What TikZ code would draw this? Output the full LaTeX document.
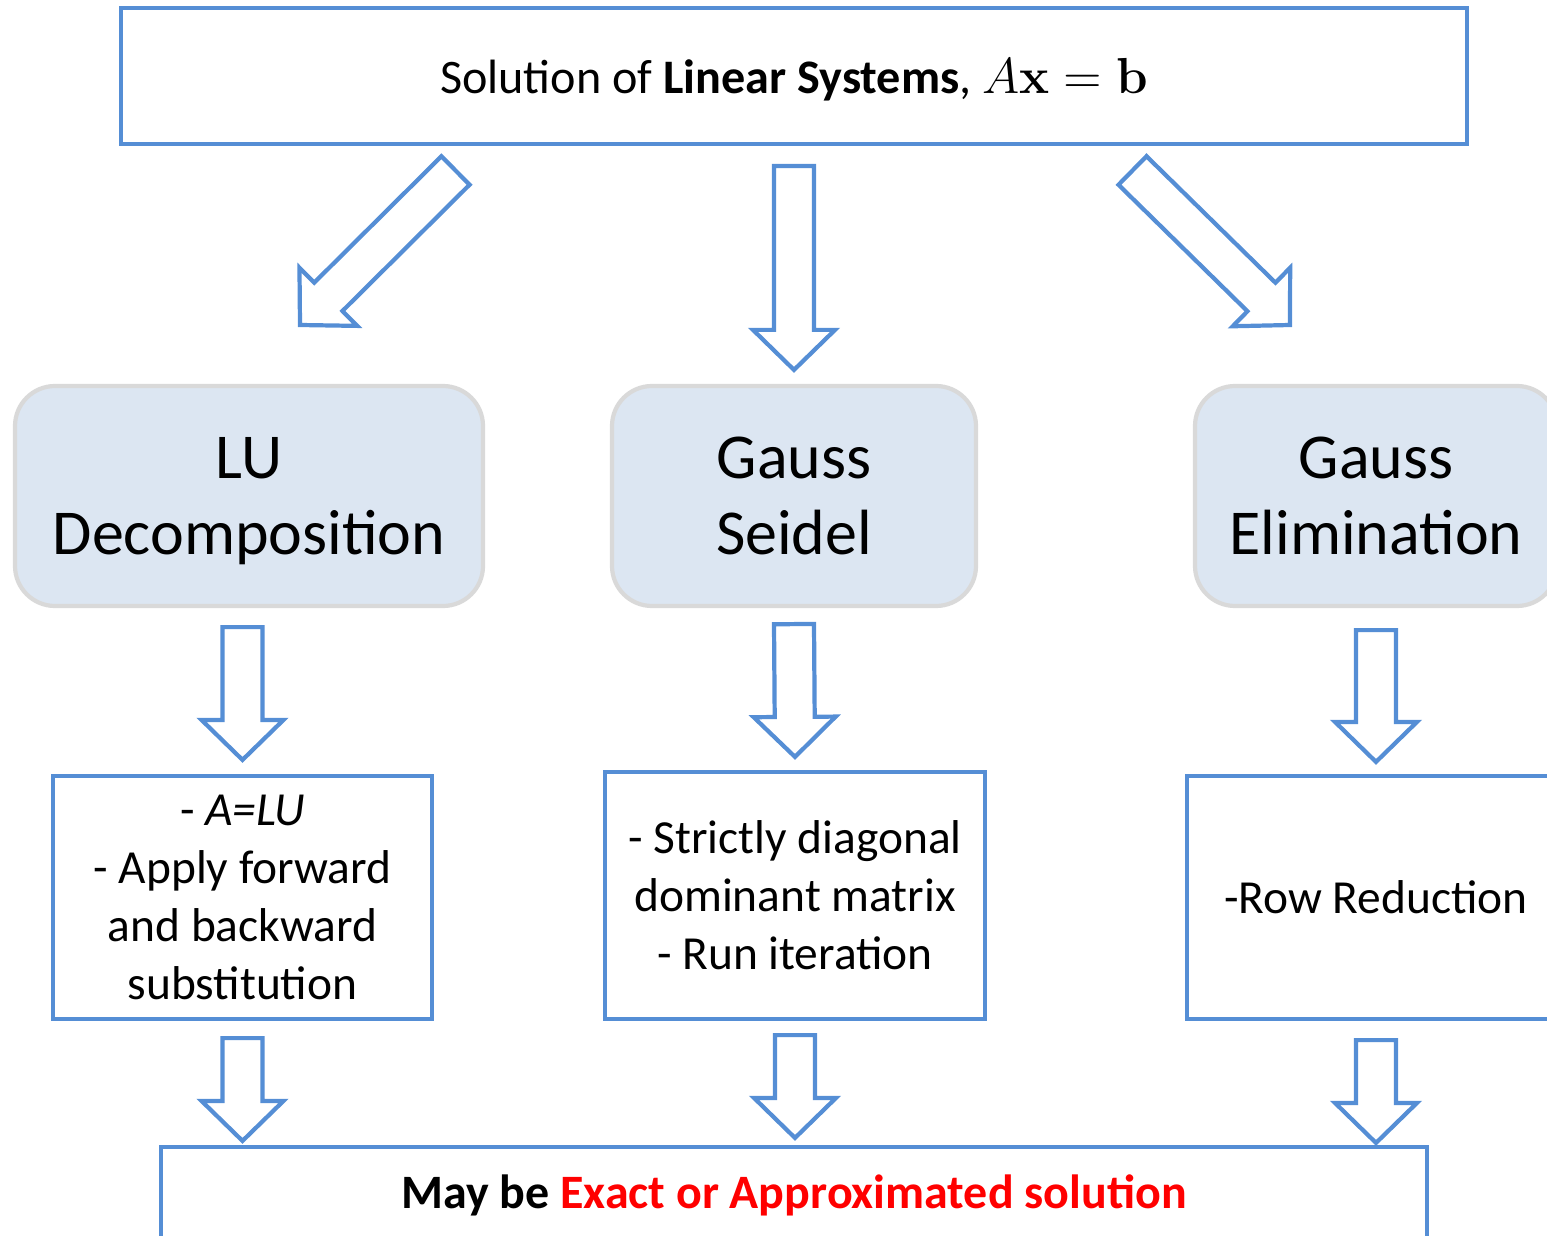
\documentclass[tikz,border=0pt]{standalone}
\usepackage[no-math]{fontspec}
\setmainfont{Carlito}
\usepackage{tikz}
\usetikzlibrary{calc, positioning}
\definecolor{boxblue}{RGB}{85,142,213}
\definecolor{methodfill}{RGB}{220,230,242}
\definecolor{methodgray}{RGB}{217,217,217}
\definecolor{solred}{RGB}{255,0,0}
\newcommand{\arrshaft}{0.2cm}
\newcommand{\arrheadw}{0.41cm}
\newcommand{\arrheadl}{0.4cm}
% outlined block arrow from #1 (tail) to #2 (tip)
\newcommand{\blockarrow}[2]{%
  \path ($(#2)!\arrheadl!(#1)$) coordinate (neck);
  \draw[blockarr] ($(#1)!\arrshaft!90:(#2)$) -- ($(neck)!\arrshaft!90:(#2)$)
    -- ($(neck)!\arrheadw!90:(#2)$) -- (#2) -- ($(neck)!\arrheadw!-90:(#2)$)
    -- ($(neck)!\arrshaft!-90:(#2)$) -- ($(#1)!\arrshaft!-90:(#2)$) -- cycle;}
\tikzset{
  header/.style={
    rectangle, draw=boxblue, line width=1.2pt, fill=white,
    minimum width=13.46cm, minimum height=1.36cm, text depth=0pt,
    font=\fontsize{13.7}{17}\selectfont
  },
  method/.style={
    rectangle, rounded corners=0.4cm, draw=methodgray, line width=1.2pt,
    fill=methodfill, minimum height=2.2cm, align=center, text depth=0pt,
    font=\fontsize{18.2}{21.6}\selectfont
  },
  note/.style={
    rectangle, draw=boxblue, line width=1.2pt, fill=white,
    minimum width=3.8cm, minimum height=2.43cm, align=center,
    font=\fontsize{13.5}{16.5}\selectfont
  },
  result/.style={
    rectangle, draw=boxblue, line width=1.2pt, fill=white,
    minimum width=12.66cm, minimum height=0.96cm,
    font=\fontsize{13.65}{17}\selectfont\bfseries
  },
  blockarr/.style={draw=boxblue, line width=1.2pt, fill=white, line join=miter}
}
\begin{document}
\begin{tikzpicture}
  \useasboundingbox (0,0) rectangle (15.47,-12.36);
  \clip (0,0) rectangle (15.47,-12.36);

  % header and the three methods
  \node[header] (top) at (7.94,-0.76)
    {Solution of \textbf{Linear Systems}, $A\mathbf{x}=\mathbf{b}$};
  \node[method, minimum width=4.68cm] (lu) at (2.49,-4.96) {LU\\Decomposition};
  \node[method, minimum width=3.64cm] (gs) at (7.94,-4.96) {Gauss\\Seidel};
  \node[method, minimum width=3.62cm] (ge) at (13.76,-4.96) {Gauss\\Elimination};

  % details
  \node[note, minimum width=3.79cm] (lunote) at (2.425,-8.975)
    {- \textit{A=LU}\\- Apply forward\\and backward\\substitution};
  \node[note, minimum height=2.47cm] (gsnote) at (7.95,-8.955)
    {- Strictly diagonal\\dominant matrix\\- Run iteration};
  \node[note, minimum width=3.78cm] (genote) at (13.76,-8.975) {-Row Reduction};

  \node[result] (res) at (7.94,-11.95)
    {May be \textcolor{solred}{Exact or Approximated solution}};

  % arrows from the header
  \coordinate (d1s) at (4.555,-1.705);
  \coordinate (d1e) at (3.00,-3.25);
  \coordinate (c1s) at ($(top.south)+(0,-0.2)$);
  \coordinate (c1e) at ($(gs.north)+(0,0.14)$);
  \coordinate (d2s) at (11.325,-1.705);
  \coordinate (d2e) at (12.90,-3.25);
  \blockarrow{d1s}{d1e}
  \blockarrow{c1s}{c1e}
  \blockarrow{d2s}{d2e}

  % arrows to the details
  \coordinate (m1s) at ($(lunote.north |- lu.south)+(0,-0.19)$);
  \coordinate (m1e) at ($(lunote.north)+(0,0.14)$);
  \coordinate (m2s) at ($(gs.south)+(0,-0.16)$);
  \coordinate (m2e) at ($(gsnote.north)+(0,0.13)$);
  \coordinate (m3s) at ($(genote.north |- ge.south)+(0,-0.22)$);
  \coordinate (m3e) at ($(genote.north)+(0,0.12)$);
  \blockarrow{m1s}{m1e}
  \blockarrow{m2s}{m2e}
  \blockarrow{m3s}{m3e}

  % arrows to the result
  \coordinate (b1s) at ($(lunote.south)+(0,-0.17)$);
  \coordinate (b1e) at ($(lunote.south |- res.north)+(0,0.04)$);
  \coordinate (b2s) at ($(gsnote.south)+(0,-0.14)$);
  \coordinate (b2e) at ($(gsnote.south |- res.north)+(0,0.07)$);
  \coordinate (b3s) at ($(genote.south)+(0,-0.19)$);
  \coordinate (b3e) at ($(genote.south |- res.north)+(0,0.02)$);
  \blockarrow{b1s}{b1e}
  \blockarrow{b2s}{b2e}
  \blockarrow{b3s}{b3e}
\end{tikzpicture}
\end{document}
